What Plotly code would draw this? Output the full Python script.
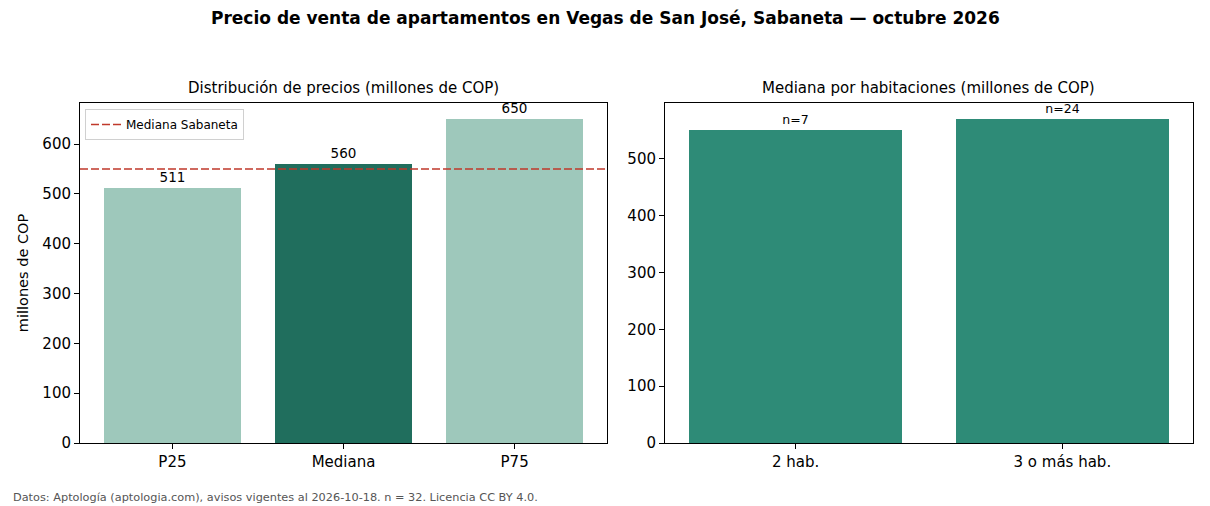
import plotly.graph_objects as go

# Data
dist_labels = ["P25", "Mediana", "P75"]
dist_values = [511, 560, 650]
dist_colors = ["#9ec8bb", "#206e5d", "#9ec8bb"]
sabaneta_median = 550

hab_labels = ["2 hab.", "3 o más hab."]
hab_values = [551, 570]
hab_n = [7, 24]

title = "Precio de venta de apartamentos en Vegas de San José, Sabaneta — octubre 2026"
sub1 = "Distribución de precios (millones de COP)"
sub2 = "Mediana por habitaciones (millones de COP)"
footer = "Datos: Aptología (aptologia.com), avisos vigentes al 2026-10-18. n = 32. Licencia CC BY 4.0."

W, H = 1210, 506
H_EFF = 497  # effective rendered height observed in the viewport
FONT = "DejaVu Sans"

def px_x(p):
    return p / W

def px_y(p):
    return 1 - p / H_EFF

fig = go.Figure()

x1 = list(range(len(dist_labels)))
x2 = list(range(len(hab_labels)))

fig.add_trace(go.Bar(
    x=x1, y=dist_values, marker=dict(color=dist_colors, line=dict(width=0)),
    width=0.8, text=[str(v) for v in dist_values], textposition="outside",
    textfont=dict(size=13.5, color="black", family=FONT), cliponaxis=False,
    xaxis="x", yaxis="y", showlegend=False, hoverinfo="skip",
))
fig.add_trace(go.Scatter(
    x=[-0.54, 2.54], y=[sabaneta_median, sabaneta_median], mode="lines",
    line=dict(color="#c0392b", width=1.5, dash="8px,3px"),
    name="Mediana Sabaneta", xaxis="x", yaxis="y", showlegend=True,
))
fig.add_trace(go.Bar(
    x=x2, y=hab_values, marker=dict(color="#2e8b77", line=dict(width=0)),
    width=0.8, text=[f"n={n}" for n in hab_n], textposition="outside",
    textfont=dict(size=12.5, color="black", family=FONT), cliponaxis=False,
    xaxis="x2", yaxis="y2", showlegend=False, hoverinfo="skip",
))

axis_common = dict(showline=True, mirror=True, linecolor="black", linewidth=1,
                   ticks="outside", ticklen=5, tickcolor="black", showgrid=False,
                   zeroline=False, tickfont=dict(size=15, color="black", family=FONT))

fig.update_layout(
    width=W, height=H, autosize=False,
    margin=dict(l=0, r=0, t=0, b=0),
    paper_bgcolor="white", plot_bgcolor="white",
    font=dict(family=FONT, color="black"),
    bargap=0,
    xaxis=dict(domain=[px_x(80), px_x(607)], range=[-0.54, 2.54],
               tickvals=x1, ticktext=dist_labels, anchor="y", **axis_common),
    yaxis=dict(domain=[px_y(443), px_y(103)], range=[0, 682.5],
               tickvals=[0, 100, 200, 300, 400, 500, 600], anchor="x",
               title=dict(text="millones de COP", font=dict(size=14.5, family=FONT), standoff=10),
               **axis_common),
    xaxis2=dict(domain=[px_x(665), px_x(1193)], range=[-0.49, 1.49],
                tickvals=x2, ticktext=hab_labels, anchor="y2", **axis_common),
    yaxis2=dict(domain=[px_y(443), px_y(103)], range=[0, 598.5],
                tickvals=[0, 100, 200, 300, 400, 500], anchor="x2", **axis_common),
    legend=dict(x=px_x(85), y=px_y(109), xanchor="left", yanchor="top",
                bgcolor="white", bordercolor="#d0d0d0", borderwidth=1,
                font=dict(size=12, family=FONT), itemwidth=30,
                tracegroupgap=0),
    showlegend=True,
    annotations=[
        dict(text=f"<b>{title}</b>", x=0.5, y=px_y(18), xref="paper", yref="paper",
             xanchor="center", yanchor="middle", showarrow=False,
             font=dict(size=17, family=FONT, color="black")),
        dict(text=sub1, x=(px_x(80) + px_x(607)) / 2, y=px_y(88), xref="paper", yref="paper",
             xanchor="center", yanchor="middle", showarrow=False,
             font=dict(size=15, family=FONT, color="black")),
        dict(text=sub2, x=(px_x(665) + px_x(1193)) / 2, y=px_y(88), xref="paper", yref="paper",
             xanchor="center", yanchor="middle", showarrow=False,
             font=dict(size=15, family=FONT, color="black")),
        dict(text=footer, x=px_x(11), y=px_y(497), xref="paper", yref="paper",
             xanchor="left", yanchor="middle", showarrow=False,
             font=dict(size=11.3, family=FONT, color="#555555")),
    ],
)

fig.write_html("out.html")
